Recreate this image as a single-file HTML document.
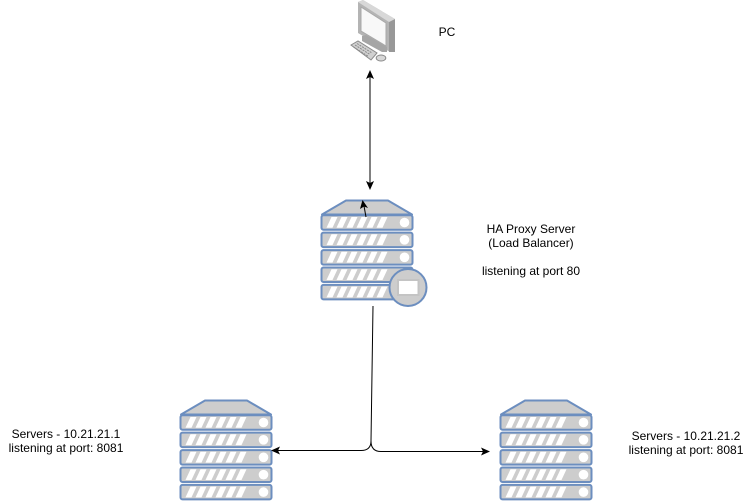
<!DOCTYPE html>
<html><head><meta charset="utf-8"><style>
html,body{margin:0;padding:0;background:#fff}
svg{display:block}
text{font-family:"Liberation Sans",sans-serif;font-size:12px;fill:#000;text-anchor:middle}
</style></head><body>
<svg width="751" height="502" viewBox="0 0 751 502" xmlns="http://www.w3.org/2000/svg">
<defs>
<g id="row">
<rect x="0.500" y="0.300" width="91" height="14.500" rx="2" fill="#cdcdcd" stroke="#6c8ebf" stroke-width="2"/>
<path d="M5.500 12.800l5-10.800h6l-5 10.800zM15.500 12.800l5-10.800h6l-5 10.800zM25.500 12.800l5-10.800h6l-5 10.800zM35.500 12.800l5-10.800h6l-5 10.800zM45.500 12.800l5-10.800h6l-5 10.800zM55.500 12.800l5-10.800h6l-5 10.800z" fill="#fff"/>
<circle cx="83.500" cy="7.500" r="4.800" fill="#fff"/>
</g>
<g id="server">
<path d="M1 14.500L25 0.500H67L91 14.500Z" fill="#cdcdcd" stroke="#6c8ebf" stroke-width="2" stroke-linejoin="round"/>
<use href="#row" y="15"/><use href="#row" y="32.300"/><use href="#row" y="49.800"/><use href="#row" y="67.200"/><use href="#row" y="84.600"/>
</g>
</defs>

<!-- PC -->
<polygon points="358,2 363,0 395,19 395,52 390,52 358,33" fill="#b4b4b4"/>
<polygon points="389,22 395,19 395,52 389,52" fill="#989898"/>
<polygon points="358,2 363,0 395,19 389,22" fill="#d8d8d8"/>
<polygon points="361,7 386,23 386,46 361,31" fill="#f8f8f8" stroke="#a8a8a8" stroke-width="1"/>
<polygon points="362,36 366,35 387,47 387,52 382,52 362,41" fill="#a5a5a5"/>
<polygon points="351,45 358,41 377,53 371,60" fill="#d0d0d0" stroke="#8a8a8a" stroke-width="1"/>
<path d="M355 45l15 9.500M353.500 47l15 9.500M357 43.500l15 9.500" stroke="#8a8a8a" stroke-width="1" stroke-dasharray="2 1" fill="none"/>
<ellipse cx="381" cy="58" rx="4.800" ry="3" fill="#d8d8d8" stroke="#8a8a8a" stroke-width="1"/>

<!-- servers -->
<use href="#server" x="321" y="200"/>
<circle cx="408" cy="287.500" r="18.500" fill="#cdcdcd" stroke="#6c8ebf" stroke-width="2"/>
<rect x="398" y="280" width="20.500" height="15" fill="#fff" stroke="#c4c4c4" stroke-width="2"/>
<use href="#server" x="180" y="400"/>
<use href="#server" x="500" y="400"/>

<!-- connectors -->
<g fill="none" stroke="#000" stroke-width="1">
<path d="M370 76V184"/>
<path d="M366 217L364 206"/>
<path d="M373 306L371 441Q371 450.500 361 450.500H276"/>
<path d="M371 441Q371 451.500 381 451.500H485"/>
</g>
<g fill="#000">
<polygon points="370,70 374,79 370,77 366,79"/>
<polygon points="370,190 366,181 370,183 374,181"/>
<polygon points="362.500,200 368,208 364,206.500 360,209"/>
<polygon points="271,450.500 280,446.500 278,450.500 280,454.500"/>
<polygon points="490,451.500 481,447.500 483,451.500 481,455.500"/>
</g>

<!-- labels -->
<text x="447" y="36">PC</text>
<text x="531" y="233">HA Proxy Server</text>
<text x="531" y="247">(Load Balancer)</text>
<text x="531" y="275">listening at port 80</text>
<text x="66" y="438">Servers - 10.21.21.1</text>
<text x="66" y="452">listening at port: 8081</text>
<text x="686" y="440">Servers - 10.21.21.2</text>
<text x="686" y="454">listening at port: 8081</text>
</svg>
</body></html>
